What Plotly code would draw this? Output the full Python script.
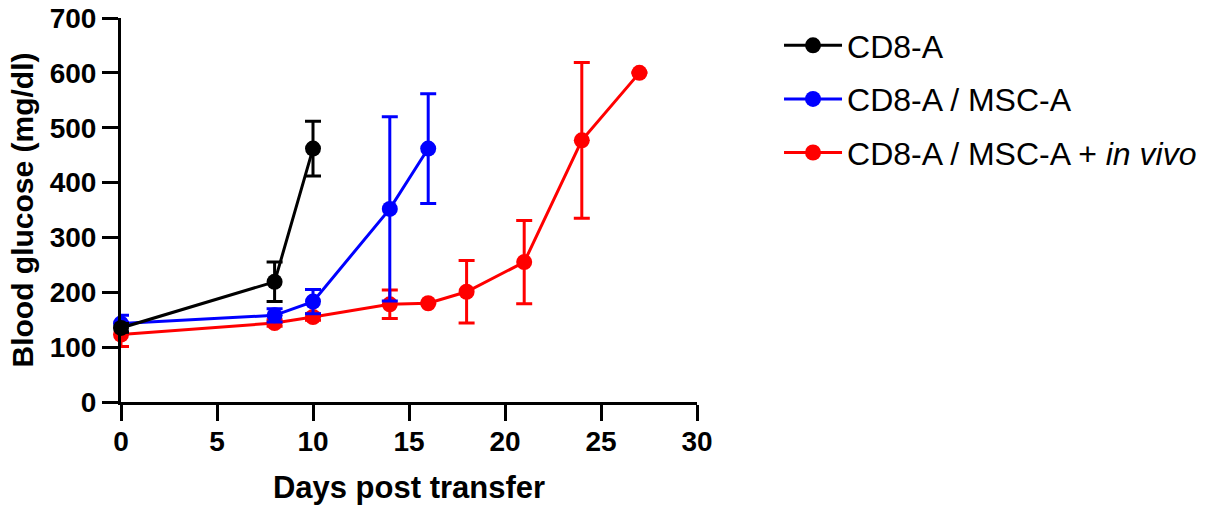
import plotly.graph_objects as go

# Data
cd8_days = [0, 8, 10]
cd8_vals = [135, 219, 462]
cd8_err = [8, 36, 50]

msc_days = [0, 8, 10, 14, 16]
msc_vals = [143, 158, 183, 352, 462]
msc_err = [15, 12, 22, 168, 100]

vivo_days = [0, 8, 10, 14, 16, 18, 21, 24, 27]
vivo_vals = [123, 144, 155, 178, 180, 201, 255, 477, 600]
vivo_err = [22, 6, 6, 26, 0, 57, 76, 142, 0]

x_ticks = [0, 5, 10, 15, 20, 25, 30]
y_ticks = [0, 100, 200, 300, 400, 500, 600, 700]

FONT = "Liberation Sans, Arial, sans-serif"

fig = go.Figure()

def add(name, xs, ys, es, color, rank):
    fig.add_trace(go.Scatter(
        x=xs, y=ys, name=name, mode="lines+markers",
        line=dict(color=color, width=3),
        marker=dict(color=color, size=16),
        error_y=dict(type="data", array=es, visible=True, color=color,
                     thickness=3, width=8),
        cliponaxis=False, legendgroup=name, legendrank=rank,
    ))

add("CD8-A / MSC-A + <i>in vivo</i>", vivo_days, vivo_vals, vivo_err, "#ff0000", 3)
add("CD8-A / MSC-A", msc_days, msc_vals, msc_err, "#0000ff", 2)
add("CD8-A", cd8_days, cd8_vals, cd8_err, "#000000", 1)

axis_common = dict(
    showline=True, linecolor="black", linewidth=3,
    ticks="outside", ticklen=16, tickwidth=3, tickcolor="black",
    showgrid=False, zeroline=False, automargin=False,
    ticklabeloverflow="allow",
    tickfont=dict(family=FONT, size=28, color="black", weight="bold"),
)

fig.update_layout(
    width=1220, height=506,
    margin=dict(l=121, r=523, t=18, b=104),
    plot_bgcolor="white", paper_bgcolor="white",
    xaxis=dict(range=[0, 30], tickvals=x_ticks, ticklabelstandoff=-4,
               title=dict(text="<b>Days post transfer</b>",
                          font=dict(family=FONT, size=31, color="black"),
                          standoff=21),
               **axis_common),
    yaxis=dict(range=[0, 700], tickvals=y_ticks,
               title=dict(text="<b>Blood glucose (mg/dl)</b>",
                          font=dict(family=FONT, size=30, color="black"),
                          standoff=8),
               **axis_common),
    legend=dict(x=1.1424, y=1.0, xanchor="left", yanchor="top",
                font=dict(family=FONT, size=32, color="black"),
                tracegroupgap=9, itemwidth=58, bgcolor="rgba(0,0,0,0)"),
    showlegend=True,
)

fig.write_html("out.html",
               config={"displayModeBar": False},
               post_script="document.body.style.margin='0';")
